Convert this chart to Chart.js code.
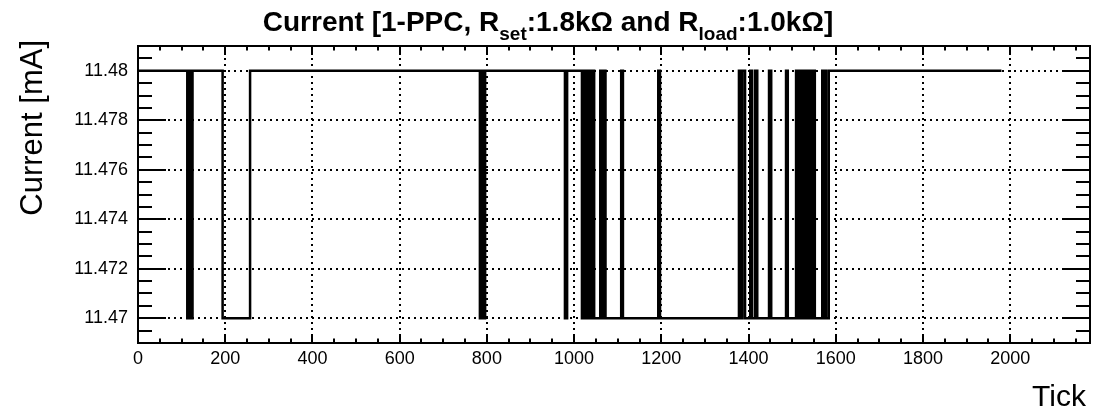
<!DOCTYPE html>
<html>
<head>
<meta charset="utf-8">
<script src="https://cdn.jsdelivr.net/npm/chart.js@4.4.1/dist/chart.umd.min.js"></script>
<style>
  html, body { margin: 0; padding: 0; background: #fff; }
  canvas { display: block; }
</style>
</head>
<body>
<canvas id="current-chart" width="1094" height="414"></canvas>
<script>
// ==============================
// DATA
// ==============================
// tick at which the reading changes, and the current [mA] from that tick on
const stepTicks = [
  0, 113, 117, 120, 125, 194, 257,
  784, 788, 791, 796, 979, 984,
  1018, 1020, 1023, 1025, 1028, 1030, 1033, 1035, 1038, 1040, 1042, 1044, 1046,
  1060, 1064, 1067, 1072, 1108, 1112, 1193, 1197,
  1378, 1382, 1386, 1392, 1404, 1408, 1415, 1420, 1447, 1452, 1486, 1490,
  1509, 1511, 1514, 1516, 1519, 1521, 1524, 1526, 1529, 1531, 1534, 1536, 1539, 1541, 1544, 1546, 1549, 1552,
  1569, 1572, 1575, 1578, 1584, 1980
];
const stepCurrent = [
  11.48, 11.47, 11.48, 11.47, 11.48, 11.47, 11.48,
  11.47, 11.48, 11.47, 11.48, 11.47, 11.48,
  11.47, 11.48, 11.47, 11.48, 11.47, 11.48, 11.47, 11.48, 11.47, 11.48, 11.47, 11.48, 11.47,
  11.48, 11.47, 11.48, 11.47, 11.48, 11.47, 11.48, 11.47,
  11.48, 11.47, 11.48, 11.47, 11.48, 11.47, 11.48, 11.47, 11.48, 11.47, 11.48, 11.47,
  11.48, 11.47, 11.48, 11.47, 11.48, 11.47, 11.48, 11.47, 11.48, 11.47, 11.48, 11.47, 11.48, 11.47, 11.48, 11.47, 11.48, 11.47,
  11.48, 11.47, 11.48, 11.47, 11.48, 11.48
];

const xTickValues = [0, 200, 400, 600, 800, 1000, 1200, 1400, 1600, 1800, 2000];
const xTickLabels = ["0", "200", "400", "600", "800", "1000", "1200", "1400", "1600", "1800", "2000"];
const yTickValues = [11.47, 11.472, 11.474, 11.476, 11.478, 11.48];
const yTickLabels = ["11.47", "11.472", "11.474", "11.476", "11.478", "11.48"];

const X_MIN = 0, X_MAX = 2183;
const Y_MIN = 11.469, Y_MAX = 11.481;

const FONT = "'Liberation Sans', Arial, Helvetica, sans-serif";

// ==============================
// ROOT-like frame, inward ticks and titles
// ==============================
const rootFrame = {
  id: "rootFrame",
  afterDraw(chart) {
    const { ctx, chartArea: a, scales: { x, y } } = chart;
    ctx.save();
    ctx.strokeStyle = "#000";
    ctx.fillStyle = "#000";
    ctx.lineWidth = 2;

    // frame
    ctx.strokeRect(a.left, a.top, a.right - a.left, a.bottom - a.top);

    // x ticks (bottom + top), major every 200, minor every 50
    ctx.beginPath();
    for (let v = 0; v <= X_MAX; v += 50) {
      const px = Math.round(x.getPixelForValue(v));
      const len = v % 200 === 0 ? 9 : 4.5;
      ctx.moveTo(px, a.bottom); ctx.lineTo(px, a.bottom - len);
      ctx.moveTo(px, a.top); ctx.lineTo(px, a.top + len);
    }
    // y ticks (left + right), major every 0.002, minor every 0.0005
    for (let k = 0; ; k++) {
      const v = 11.4695 + k * 0.0005;
      if (v > Y_MAX + 1e-9) break;
      const py = Math.round(y.getPixelForValue(v));
      const q = (v - 11.47) / 0.002;
      const len = Math.abs(q - Math.round(q)) < 1e-6 ? 28 : 14;
      ctx.moveTo(a.left, py); ctx.lineTo(a.left + len, py);
      ctx.moveTo(a.right, py); ctx.lineTo(a.right - len, py);
    }
    ctx.stroke();

    // title with subscripts
    const parts = [
      { t: "Current [1-PPC, R", sub: false },
      { t: "set", sub: true },
      { t: ":1.8k\u03A9 and R", sub: false },
      { t: "load", sub: true },
      { t: ":1.0k\u03A9]", sub: false }
    ];
    const mainFont = "bold 28px " + FONT;
    const subFont = "bold 19px " + FONT;
    let total = 0;
    parts.forEach(p => { ctx.font = p.sub ? subFont : mainFont; p.w = ctx.measureText(p.t).width; total += p.w; });
    let tx = 548 - total / 2;
    ctx.textAlign = "left";
    ctx.textBaseline = "alphabetic";
    parts.forEach(p => {
      ctx.font = p.sub ? subFont : mainFont;
      ctx.fillText(p.t, tx, p.sub ? 40 : 31);
      tx += p.w;
    });

    // y axis title
    ctx.save();
    ctx.translate(42, 40);
    ctx.rotate(-Math.PI / 2);
    ctx.font = "31px " + FONT;
    ctx.textAlign = "right";
    ctx.fillText("Current [mA]", 0, 0);
    ctx.restore();

    // x axis title
    ctx.font = "30px " + FONT;
    ctx.textAlign = "right";
    ctx.fillText("Tick", 1086, 406);

    ctx.restore();
  }
};

// ==============================
// CHART
// ==============================
const canvas = document.getElementById("current-chart");
new Chart(canvas.getContext("2d"), {
  type: "line",
  data: {
    datasets: [{
      data: stepTicks.map((t, i) => ({ x: t, y: stepCurrent[i] })),
      stepped: "before",
      borderColor: "#000",
      borderWidth: 2.5,
      pointRadius: 0,
      fill: false,
      tension: 0
    }]
  },
  options: {
    responsive: false,
    animation: false,
    layout: { padding: { top: 46, right: 4, left: 0, bottom: 0 } },
    plugins: { legend: { display: false }, title: { display: false }, tooltip: { enabled: false } },
    scales: {
      x: {
        type: "linear",
        min: X_MIN,
        max: X_MAX,
        afterBuildTicks: s => { s.ticks = xTickValues.map(v => ({ value: v })); },
        afterFit: s => { s.height = 71; },
        ticks: {
          includeBounds: false,
          autoSkip: false,
          maxRotation: 0,
          padding: 5,
          color: "#000",
          font: { family: FONT, size: 18 },
          callback: (v, i) => xTickLabels[i]
        },
        grid: { color: "#000", lineWidth: 2, drawTicks: false },
        border: { display: false, dash: [2, 4] }
      },
      y: {
        type: "linear",
        min: Y_MIN,
        max: Y_MAX,
        afterBuildTicks: s => { s.ticks = yTickValues.map(v => ({ value: v })); },
        afterFit: s => { s.width = 138; },
        ticks: {
          includeBounds: false,
          autoSkip: false,
          padding: 10,
          color: "#000",
          font: { family: FONT, size: 18 },
          callback: (v, i) => yTickLabels[i]
        },
        grid: { color: "#000", lineWidth: 2, drawTicks: false },
        border: { display: false, dash: [2, 4] }
      }
    }
  },
  plugins: [rootFrame]
});
</script>
</body>
</html>
